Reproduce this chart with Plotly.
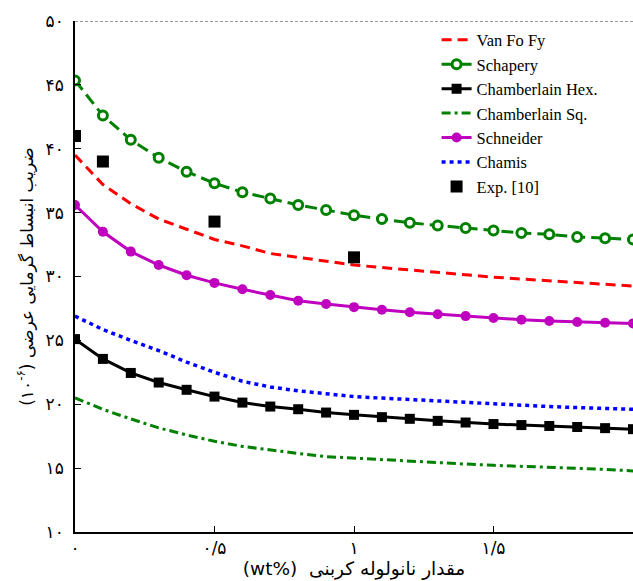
import plotly.graph_objects as go

x_wt = [0.0, 0.1, 0.2, 0.3, 0.4, 0.5, 0.6, 0.7, 0.8, 0.9, 1.0,
        1.1, 1.2, 1.3, 1.4, 1.5, 1.6, 1.7, 1.8, 1.9, 2.0]

van_fo_fy = [39.5, 37.2, 35.7, 34.5, 33.7, 32.9, 32.4, 31.8, 31.5, 31.2, 30.9,
             30.7, 30.5, 30.3, 30.1, 29.95, 29.8, 29.65, 29.5, 29.4, 29.25]
schapery = [45.35, 42.6, 40.7, 39.3, 38.2, 37.3, 36.6, 36.1, 35.6, 35.2, 34.8,
            34.5, 34.2, 34.0, 33.8, 33.6, 33.4, 33.3, 33.1, 33.0, 32.9]
chamberlain_hex = [25.1, 23.55, 22.45, 21.7, 21.13, 20.6, 20.13, 19.82, 19.61, 19.35, 19.17,
                   18.99, 18.86, 18.7, 18.57, 18.45, 18.37, 18.3, 18.22, 18.13, 18.05]
chamberlain_sq = [20.5, 19.6, 18.85, 18.15, 17.6, 17.1, 16.7, 16.4, 16.15, 15.9, 15.78,
                  15.63, 15.52, 15.42, 15.32, 15.22, 15.15, 15.07, 15.0, 14.9, 14.78]
schneider = [35.6, 33.5, 31.95, 30.9, 30.1, 29.5, 29.0, 28.55, 28.1, 27.85, 27.6,
             27.4, 27.2, 27.05, 26.9, 26.75, 26.62, 26.52, 26.44, 26.38, 26.33]
chamis = [26.9, 25.85, 25.0, 24.2, 23.3, 22.5, 21.8, 21.35, 21.05, 20.8, 20.6,
          20.48, 20.36, 20.24, 20.12, 20.0, 19.9, 19.82, 19.74, 19.67, 19.6]

exp_x = [0.0, 0.1, 0.5, 1.0]
exp_y = [41.0, 39.0, 34.3, 31.5]

y_tickvals = [10, 15, 20, 25, 30, 35, 40, 45, 50]
y_ticktext = ["۱۰", "۱۵", "۲۰", "۲۵", "۳۰", "۳۵", "۴۰", "۴۵", "۵۰"]
x_tickvals = [0, 0.5, 1, 1.5]
x_ticktext = ["۰", "۰/۵", "۱", "۱/۵"]

GREEN = "#008000"
MAG = "#BF00BF"

fig = go.Figure()
fig.add_trace(go.Scatter(x=x_wt, y=van_fo_fy, name="Van Fo Fy", mode="lines",
                         line=dict(color="#FF0000", width=3, dash="10px,6px")))
fig.add_trace(go.Scatter(x=x_wt, y=schapery, name="Schapery", mode="lines+markers",
                         line=dict(color=GREEN, width=3, dash="12px,6px"),
                         marker=dict(symbol="circle", size=9, color="white",
                                     line=dict(color=GREEN, width=3))))
fig.add_trace(go.Scatter(x=x_wt, y=chamberlain_hex, name="Chamberlain Hex.", mode="lines+markers",
                         line=dict(color="black", width=3),
                         marker=dict(symbol="square", size=10, color="black")))
fig.add_trace(go.Scatter(x=x_wt, y=chamberlain_sq, name="Chamberlain Sq.", mode="lines",
                         line=dict(color=GREEN, width=3, dash="9px,4px,3px,4px")))
fig.add_trace(go.Scatter(x=x_wt, y=schneider, name="Schneider", mode="lines+markers",
                         line=dict(color=MAG, width=3),
                         marker=dict(symbol="circle", size=10, color=MAG)))
fig.add_trace(go.Scatter(x=x_wt, y=chamis, name="Chamis", mode="lines",
                         line=dict(color="#0000FF", width=3.5, dash="4px,4px")))
fig.add_trace(go.Scatter(x=exp_x, y=exp_y, name="Exp. [10]", mode="markers",
                         marker=dict(symbol="square", size=12, color="black")))

fig.add_shape(type="line", xref="paper", yref="y", x0=0, x1=1, y0=50, y1=50,
              line=dict(color="#333333", width=1, dash="3px,2px"))

PERS = "DejaVu Sans"
fig.update_layout(
    width=633, height=581,
    margin=dict(l=75, r=0, t=21, b=49),
    plot_bgcolor="white", paper_bgcolor="white",
    showlegend=True,
    legend=dict(x=0.648, y=0.997, xanchor="left", yanchor="top",
                bgcolor="rgba(255,255,255,0)", borderwidth=0,
                font=dict(family="Liberation Serif, Times New Roman, serif", size=16.5, color="black"),
                tracegroupgap=0),
    xaxis=dict(range=[0, 2], tickvals=x_tickvals, ticktext=x_ticktext,
               ticks="inside", ticklen=6, tickcolor="black", tickwidth=1,
               showline=True, linecolor="black", linewidth=1.5, mirror=False,
               showgrid=False, zeroline=False,
               tickfont=dict(family=PERS, size=17, color="black"),
               title=dict(text="(wt%)  مقدار نانولوله کربنی",
                          font=dict(family=PERS, size=18.5, color="black"), standoff=3)),
    yaxis=dict(range=[10, 50], tickvals=y_tickvals, ticktext=y_ticktext,
               ticks="inside", ticklen=6, tickcolor="black", tickwidth=1,
               showline=True, linecolor="black", linewidth=1.5,
               showgrid=False, zeroline=False, ticklabelstandoff=6,
               tickfont=dict(family=PERS, size=17, color="black"),
               title=dict(text="(۱۰<sup>-۶</sup>) ضریب انبساط گرمایی عرضی",
                          font=dict(family=PERS, size=17, color="black"), standoff=8)),
)

fig.write_html("out.html")
